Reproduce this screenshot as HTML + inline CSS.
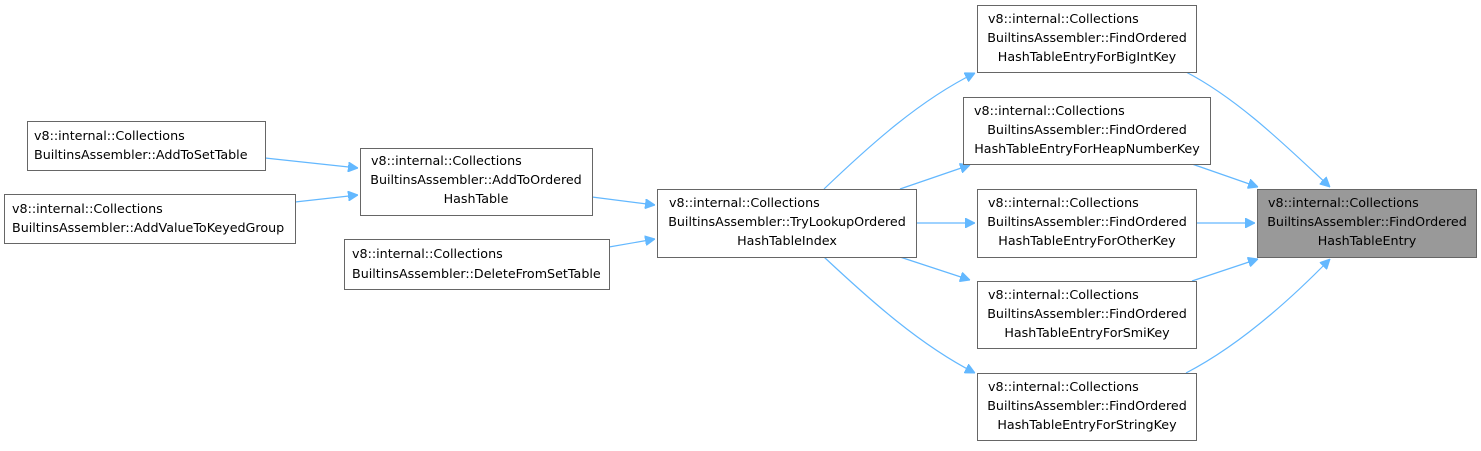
<!DOCTYPE html>
<html><head><meta charset="utf-8"><style>
html,body{margin:0;padding:0;background:#fff;}
text{font-family:"DejaVu Sans","Liberation Sans",sans-serif;font-size:12.7px;fill:#000;}
.b{fill:#fff;stroke:#666;stroke-width:1;}
.e{fill:none;stroke:#63b8ff;stroke-width:1.2;}
.a{fill:#63b8ff;stroke:#63b8ff;}
</style></head><body>
<svg width="1481" height="446" viewBox="0 0 1481 446" xmlns="http://www.w3.org/2000/svg">
<defs><marker id="m" viewBox="0 0 10 10" refX="10" refY="5" markerWidth="10" markerHeight="10" markerUnits="userSpaceOnUse" orient="auto"><path d="M0,0L10,5L0,10z" class="a"/></marker></defs>
<path class="e" marker-end="url(#m)" d="M265,158 L358,168"/>
<path class="e" marker-end="url(#m)" d="M295,202 L358,195"/>
<path class="e" marker-end="url(#m)" d="M592,197 L655,205"/>
<path class="e" marker-end="url(#m)" d="M609,247 L655,239"/>
<path class="e" marker-end="url(#m)" d="M824,189 C870,145 920,100 975,73"/>
<path class="e" marker-end="url(#m)" d="M900,189 L970,165"/>
<path class="e" marker-end="url(#m)" d="M916,223 L975,223"/>
<path class="e" marker-end="url(#m)" d="M900,257 L970,280"/>
<path class="e" marker-end="url(#m)" d="M824,257 C870,300 920,345 975,373"/>
<path class="e" marker-end="url(#m)" d="M1186,72 C1240,100 1290,150 1330,187"/>
<path class="e" marker-end="url(#m)" d="M1192,164 L1258,187"/>
<path class="e" marker-end="url(#m)" d="M1196,223 L1255,223"/>
<path class="e" marker-end="url(#m)" d="M1192,281 L1258,259"/>
<path class="e" marker-end="url(#m)" d="M1186,373 C1240,345 1290,300 1330,259"/>
<rect class="b" x="27.5" y="121.5" width="238" height="49"/>
<text x="34" y="140">v8::internal::Collections</text><text x="34" y="159">BuiltinsAssembler::AddToSetTable</text>
<rect class="b" x="4.5" y="194.5" width="291" height="49"/>
<text x="12" y="213">v8::internal::Collections</text><text x="12" y="232">BuiltinsAssembler::AddValueToKeyedGroup</text>
<rect class="b" x="360.5" y="148.5" width="232" height="67"/>
<text x="371" y="165">v8::internal::Collections</text><text x="476" y="184" text-anchor="middle">BuiltinsAssembler::AddToOrdered</text><text x="476" y="203" text-anchor="middle">HashTable</text>
<rect class="b" x="344.5" y="239.5" width="265" height="50"/>
<text x="352" y="258">v8::internal::Collections</text><text x="352" y="278">BuiltinsAssembler::DeleteFromSetTable</text>
<rect class="b" x="657.5" y="189.5" width="259" height="68"/>
<text x="669" y="207">v8::internal::Collections</text><text x="787" y="226" text-anchor="middle">BuiltinsAssembler::TryLookupOrdered</text><text x="787" y="245" text-anchor="middle">HashTableIndex</text>
<rect class="b" x="977.5" y="5.5" width="219" height="67"/>
<text x="988" y="23">v8::internal::Collections</text><text x="1087" y="42" text-anchor="middle">BuiltinsAssembler::FindOrdered</text><text x="1087" y="61" text-anchor="middle">HashTableEntryForBigIntKey</text>
<rect class="b" x="963.5" y="97.5" width="247" height="67"/>
<text x="974" y="115">v8::internal::Collections</text><text x="1087" y="134" text-anchor="middle">BuiltinsAssembler::FindOrdered</text><text x="1087" y="153" text-anchor="middle">HashTableEntryForHeapNumberKey</text>
<rect class="b" x="977.5" y="189.5" width="219" height="68"/>
<text x="988" y="207">v8::internal::Collections</text><text x="1087" y="226" text-anchor="middle">BuiltinsAssembler::FindOrdered</text><text x="1087" y="245" text-anchor="middle">HashTableEntryForOtherKey</text>
<rect class="b" x="977.5" y="281.5" width="219" height="67"/>
<text x="988" y="299">v8::internal::Collections</text><text x="1087" y="318" text-anchor="middle">BuiltinsAssembler::FindOrdered</text><text x="1087" y="337" text-anchor="middle">HashTableEntryForSmiKey</text>
<rect class="b" x="977.5" y="373.5" width="219" height="67"/>
<text x="988" y="391">v8::internal::Collections</text><text x="1087" y="410" text-anchor="middle">BuiltinsAssembler::FindOrdered</text><text x="1087" y="429" text-anchor="middle">HashTableEntryForStringKey</text>
<rect x="1257.5" y="189.5" width="219" height="68" fill="#999" stroke="#666"/>
<text x="1268" y="207">v8::internal::Collections</text><text x="1367" y="226" text-anchor="middle">BuiltinsAssembler::FindOrdered</text><text x="1367" y="245" text-anchor="middle">HashTableEntry</text>
</svg>
</body></html>
